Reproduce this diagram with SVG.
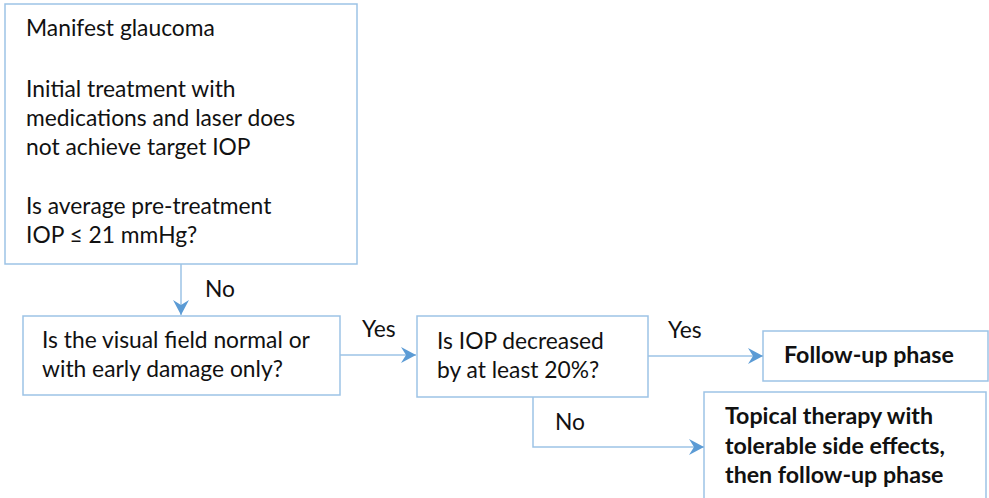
<svg xmlns="http://www.w3.org/2000/svg" width="989" height="498" viewBox="0 0 989 498">
<style>
.box{fill:#fff;stroke:#9DC3E6;stroke-width:1.5}
.t{font-family:Lato,"Liberation Sans",sans-serif;font-size:22.8px;fill:#111}
.b{font-weight:bold;font-size:23.2px}
.c{fill:none;stroke:#9DC3E6;stroke-width:1.5}
</style>
<defs>
<marker id="ah" markerUnits="userSpaceOnUse" markerWidth="18" markerHeight="18" refX="16" refY="9" orient="auto">
<path d="M1,1 L16,9 L1,17 L6,9 z" fill="#5B9BD5"/>
</marker>
</defs>
<rect width="989" height="498" fill="#fff"/>
<g id="n1">
<rect class="box" x="5" y="4" width="352" height="260"/>
<text class="t" x="26" y="36">Manifest glaucoma</text>
<text class="t" x="26" y="97">Initial treatment with</text>
<text class="t" x="26" y="126">medications and laser does</text>
<text class="t" x="26" y="155">not achieve target IOP</text>
<text class="t" x="26" y="214">Is average pre-treatment</text>
<text class="t" x="26" y="243">IOP ≤ 21 mmHg?</text>
</g>
<g id="n2">
<rect class="box" x="23" y="316" width="317" height="79"/>
<text class="t" x="42" y="348">Is the visual field normal or</text>
<text class="t" x="42" y="377">with early damage only?</text>
</g>
<g id="n3">
<rect class="box" x="417" y="316" width="231" height="81"/>
<text class="t" x="437" y="349">Is IOP decreased</text>
<text class="t" x="437" y="378">by at least 20%?</text>
</g>
<g id="n4">
<rect class="box" x="763" y="331" width="225" height="50"/>
<text class="t b" x="784" y="363">Follow-up phase</text>
</g>
<g id="n5">
<rect class="box" x="704" y="392" width="282" height="120"/>
<text class="t b" x="725" y="424">Topical therapy with</text>
<text class="t b" x="725" y="454">tolerable side effects,</text>
<text class="t b" x="725" y="483">then follow-up phase</text>
</g>
<g id="connectors">
<path class="c" d="M181,264 V315" marker-end="url(#ah)"/>
<text class="t" x="205" y="297">No</text>
<path class="c" d="M340,355 H416" marker-end="url(#ah)"/>
<text class="t" x="362" y="337">Yes</text>
<path class="c" d="M648,356 H763" marker-end="url(#ah)"/>
<text class="t" x="668" y="338">Yes</text>
<path class="c" d="M533,397 V447 H704" marker-end="url(#ah)"/>
<text class="t" x="555" y="430">No</text>
</g>
</svg>
